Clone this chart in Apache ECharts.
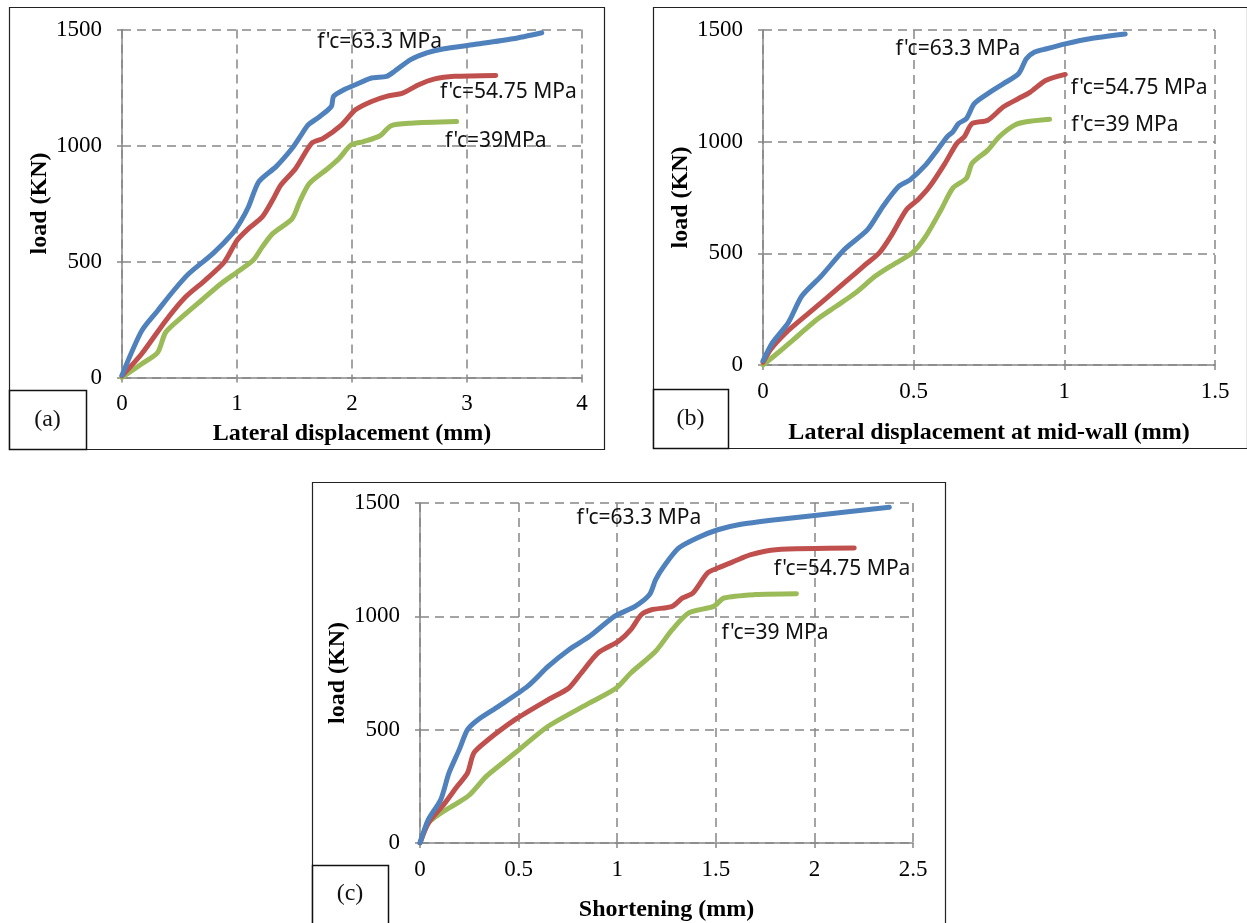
<!DOCTYPE html>
<html>
<head>
<meta charset="utf-8">
<title>Load–displacement curves</title>
<script src="https://cdn.jsdelivr.net/npm/echarts@6/dist/echarts.min.js"></script>
<style>
  html, body { margin: 0; padding: 0; background: #fff; }
  #chart { width: 1247px; height: 923px; }
</style>
</head>
<body>
<div id="chart"></div>
<script>
// ---- Data: [displacement (mm), load (kN)] ----
// (a) lateral displacement
const lat63 = [[0,10],[0.17,200],[0.31,288],[0.45,375],[0.58,447],[0.79,534],[0.96,620],[1.03,671],[1.10,736],[1.19,844],[1.34,909],[1.48,988],[1.55,1039],[1.62,1089],[1.72,1125],[1.82,1168],[1.84,1212],[1.93,1240],[2.03,1262],[2.17,1291],[2.30,1298],[2.37,1320],[2.51,1370],[2.65,1399],[2.79,1416],[3.06,1435],[3.40,1460],[3.65,1486]];
const lat5475 = [[0,7],[0.17,101],[0.38,245],[0.55,346],[0.72,418],[0.89,498],[1.00,591],[1.10,642],[1.22,692],[1.31,765],[1.38,829],[1.51,901],[1.65,1010],[1.75,1031],[1.91,1089],[2.03,1154],[2.17,1190],[2.30,1212],[2.44,1226],[2.58,1262],[2.72,1287],[2.89,1298],[3.25,1302]];
const lat39 = [[0,0],[0.17,58],[0.31,108],[0.38,195],[0.52,260],[0.69,332],[0.86,404],[1.00,454],[1.14,505],[1.22,563],[1.31,620],[1.48,685],[1.55,764],[1.63,837],[1.79,901],[1.89,945],[1.99,1002],[2.10,1017],[2.24,1041],[2.34,1085],[2.51,1096],[2.91,1103]];

// (b) lateral displacement at mid-wall
const mid63 = [[0,19],[0.032,101],[0.084,190],[0.129,309],[0.193,398],[0.270,517],[0.347,606],[0.398,710],[0.450,799],[0.488,829],[0.540,896],[0.578,962],[0.611,1022],[0.630,1044],[0.649,1081],[0.675,1103],[0.701,1170],[0.746,1215],[0.797,1259],[0.848,1304],[0.874,1371],[0.900,1400],[0.938,1415],[1.003,1438],[1.080,1460],[1.202,1482]];
const mid5475 = [[0,12],[0.026,71],[0.077,146],[0.141,220],[0.206,294],[0.283,383],[0.334,443],[0.386,502],[0.424,576],[0.476,695],[0.514,740],[0.553,799],[0.604,903],[0.643,992],[0.668,1022],[0.694,1081],[0.746,1096],[0.797,1155],[0.848,1193],[0.887,1222],[0.938,1274],[1.003,1301]];
const mid39 = [[0,0],[0.051,56],[0.116,131],[0.180,205],[0.244,264],[0.308,324],[0.373,398],[0.424,443],[0.495,502],[0.540,576],[0.591,695],[0.630,792],[0.675,836],[0.694,903],[0.746,962],[0.784,1022],[0.835,1074],[0.874,1089],[0.951,1100]];

// (c) shortening
const sho63 = [[0,0],[0.042,103],[0.105,191],[0.147,309],[0.199,412],[0.241,500],[0.294,544],[0.398,603],[0.545,691],[0.650,779],[0.755,853],[0.860,912],[0.986,1000],[1.091,1044],[1.164,1096],[1.195,1162],[1.237,1221],[1.311,1301],[1.405,1346],[1.510,1382],[1.615,1404],[1.804,1426],[2.013,1446],[2.380,1481]];
const sho5475 = [[0,0],[0.042,88],[0.126,176],[0.189,250],[0.241,309],[0.273,397],[0.336,449],[0.482,544],[0.650,632],[0.755,684],[0.818,750],[0.902,838],[1.007,890],[1.069,941],[1.122,1007],[1.174,1029],[1.279,1044],[1.332,1081],[1.384,1103],[1.458,1191],[1.510,1213],[1.594,1243],[1.678,1272],[1.804,1294],[2.202,1301]];
const sho39 = [[0,0],[0.042,88],[0.105,132],[0.189,176],[0.252,213],[0.336,294],[0.419,353],[0.503,412],[0.650,515],[0.860,618],[0.996,684],[1.069,750],[1.195,846],[1.279,941],[1.363,1015],[1.489,1044],[1.542,1081],[1.699,1096],[1.909,1100]];

// ---- Labels ----
const seriesNames = ["f'c=63.3 MPa", "f'c=54.75 MPa", "f'c=39 MPa"];
const panelLetters = ['(a)', '(b)', '(c)'];
const xTitles = ['Lateral displacement (mm)', 'Lateral displacement at mid-wall (mm)', 'Shortening (mm)'];
const yTitle = 'load (KN)';
const xMax = [4, 1.5, 2.5];
const xStep = [1, 0.5, 0.5];
// curve-label text and anchor position (in data units) per panel
const curveLabels = [
  [["f'c=63.3 MPa", 2.24, 1446], ["f'c=54.75 MPa", 3.36, 1230], ["f'c=39MPa", 3.25, 1019]],
  [["f'c=63.3 MPa", 0.647, 1415], ["f'c=54.75 MPa", 1.248, 1240], ["f'c=39 MPa", 1.201, 1075]],
  [["f'c=63.3 MPa", 1.11, 1434], ["f'c=54.75 MPa", 2.14, 1209], ["f'c=39 MPa", 1.80, 927]]
];

const panelData = [[lat63, lat5475, lat39], [mid63, mid5475, mid39], [sho63, sho5475, sho39]];
const colors = ['#4F81BD', '#C0504D', '#9BBB59'];

// ---- Layout ----
const grids = [
  { left: 122, top: 29.5, width: 460, height: 348 },
  { left: 763, top: 30, width: 452, height: 335 },
  { left: 420, top: 503, width: 493, height: 340 }
];
const xNameGaps = [44, 56, 55];
const yNameGaps = [63, 65, 63];
const frames = [[9, 7, 595, 442], [653, 7, 594, 441], [312, 482, 633, 445]];
const letterBoxes = [[9, 390, 77, 59], [653, 389, 75, 59], [312, 865, 76, 62]];

const serif = 'Liberation Serif, Times New Roman, serif';
const gridGray = '#868686';

const chart = echarts.init(document.getElementById('chart'), null, { renderer: 'canvas' });

const xAxes = [], yAxes = [], series = [], graphics = [];

grids.forEach((g, i) => {
  xAxes.push({
    type: 'value', gridIndex: i, min: 0, max: xMax[i], interval: xStep[i],
    axisLine: { show: true, onZero: false, lineStyle: { color: gridGray, width: 1.5 } },
    axisTick: { show: true, length: 5, lineStyle: { color: gridGray, width: 1.5 } },
    axisLabel: { margin: 15, color: '#000', fontFamily: serif, fontSize: 23, formatter: v => String(v) },
    splitLine: { show: true, lineStyle: { color: gridGray, width: 1.5, type: [9, 6] } },
    name: xTitles[i], nameLocation: 'middle', nameGap: xNameGaps[i],
    nameTextStyle: { fontFamily: serif, fontWeight: 'bold', fontSize: 24, color: '#000' }
  });
  yAxes.push({
    type: 'value', gridIndex: i, min: 0, max: 1500, interval: 500,
    axisLine: { show: true, onZero: false, lineStyle: { color: gridGray, width: 1.5 } },
    axisTick: { show: true, length: 5, lineStyle: { color: gridGray, width: 1.5 } },
    axisLabel: { margin: 20, color: '#000', fontFamily: serif, fontSize: 23, formatter: v => String(v) },
    splitLine: { show: true, lineStyle: { color: gridGray, width: 1.5, type: [9, 6] } },
    name: yTitle, nameLocation: 'middle', nameGap: yNameGaps[i],
    nameTextStyle: { fontFamily: serif, fontWeight: 'bold', fontSize: 24, color: '#000' }
  });
  panelData[i].forEach((d, k) => {
    const lab = curveLabels[i][k];
    series.push({
      type: 'line', name: seriesNames[k], xAxisIndex: i, yAxisIndex: i,
      data: d, showSymbol: false, symbol: 'none', smooth: 0.25,
      lineStyle: { color: colors[k], width: 5, cap: 'round', join: 'round' },
      itemStyle: { color: colors[k] },
      z: 3 - k + 2,
      markPoint: {
        symbol: 'rect', symbolSize: 1, silent: true,
        itemStyle: { color: 'rgba(0,0,0,0)' },
        label: {
          show: true, position: 'inside', formatter: lab[0],
          fontFamily: 'Noto Sans, Open Sans, sans-serif', fontSize: 21, color: '#111'
        },
        data: [{ coord: [lab[1], lab[2]] }]
      }
    });
  });
  const f = frames[i];
  graphics.push({
    type: 'rect', z: 0, silent: true,
    shape: { x: f[0] + 0.5, y: f[1] + 0.5, width: f[2], height: f[3] },
    style: { fill: null, stroke: '#222', lineWidth: 1.2 }
  });
  const b = letterBoxes[i];
  graphics.push({
    type: 'rect', z: 1, silent: true,
    shape: { x: b[0] + 0.5, y: b[1] + 0.5, width: b[2], height: b[3] },
    style: { fill: '#fff', stroke: '#111', lineWidth: 1.5 }
  });
  graphics.push({
    type: 'text', z: 2, silent: true,
    x: b[0] + b[2] / 2, y: b[1] + (i === 2 ? 29 : b[3] / 2),
    style: { text: panelLetters[i], fontFamily: serif, fontSize: 24, fill: '#111', align: 'center', verticalAlign: 'middle' }
  });
});

chart.setOption({
  animation: false,
  backgroundColor: '#fff',
  grid: grids.map(g => Object.assign({ containLabel: false }, g)),
  xAxis: xAxes,
  yAxis: yAxes,
  series: series,
  graphic: graphics
});
</script>
</body>
</html>
